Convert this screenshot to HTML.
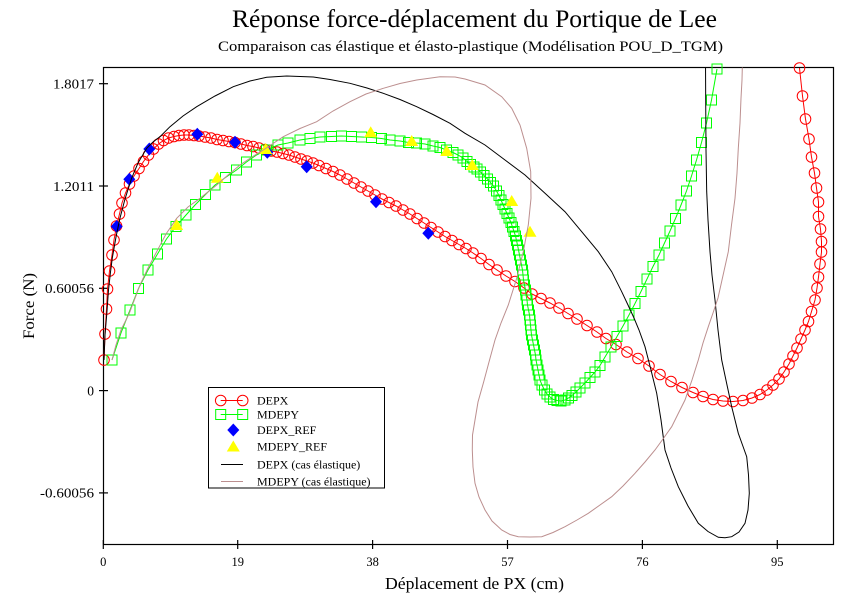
<!DOCTYPE html>
<html>
<head>
<meta charset="utf-8">
<style>
html,body{margin:0;padding:0;background:#fff;}
svg{display:block;}
text{font-family:"Liberation Serif","DejaVu Serif",serif;fill:#000;}
</style>
</head>
<body>
<svg width="842" height="595" viewBox="0 0 842 595" xmlns="http://www.w3.org/2000/svg">
<defs>
  <clipPath id="clip"><rect x="103.5" y="67.5" width="730" height="477"/></clipPath>
  <marker id="mc" viewBox="-7 -7 14 14" refX="0" refY="0" markerWidth="14" markerHeight="14" markerUnits="userSpaceOnUse" overflow="visible">
    <circle cx="0" cy="0" r="5.3" fill="none" stroke="#ff0000" stroke-width="1"/>
  </marker>
  <marker id="ms" viewBox="-7 -7 14 14" refX="0" refY="0" markerWidth="14" markerHeight="14" markerUnits="userSpaceOnUse" overflow="visible">
    <rect x="-5" y="-5" width="10" height="10" fill="none" stroke="#00ff00" stroke-width="1"/>
  </marker>
</defs>
<rect x="0" y="0" width="842" height="595" fill="#fff"/>

<!-- Titles -->
<text x="474.5" y="27" font-size="25" text-anchor="middle" textLength="485" lengthAdjust="spacingAndGlyphs">Réponse force-déplacement du Portique de Lee</text>
<text x="470.5" y="51" font-size="15" text-anchor="middle" textLength="505" lengthAdjust="spacingAndGlyphs">Comparaison cas élastique et élasto-plastique (Modélisation POU_D_TGM)</text>

<!-- Frame -->
<rect x="103.5" y="67.5" width="730" height="477" fill="none" stroke="#000" stroke-width="1.2"/>

<!-- Y ticks -->
<g stroke="#000" stroke-width="1.2">
  <line x1="99" y1="83.7" x2="108" y2="83.7"/>
  <line x1="99" y1="186" x2="108" y2="186"/>
  <line x1="99" y1="288.3" x2="108" y2="288.3"/>
  <line x1="99" y1="390.6" x2="108" y2="390.6"/>
  <line x1="99" y1="492.9" x2="108" y2="492.9"/>
</g>
<g font-size="13.5" text-anchor="end">
  <text x="94" y="88.5" textLength="41" lengthAdjust="spacingAndGlyphs">1.8017</text>
  <text x="94" y="190.8" textLength="41" lengthAdjust="spacingAndGlyphs">1.2011</text>
  <text x="94" y="293.1" textLength="49" lengthAdjust="spacingAndGlyphs">0.60056</text>
  <text x="94" y="395.4">0</text>
  <text x="94" y="497.7" textLength="54" lengthAdjust="spacingAndGlyphs">-0.60056</text>
</g>

<!-- X ticks -->
<g stroke="#000" stroke-width="1.2">
  <line x1="103.3" y1="540" x2="103.3" y2="549"/>
  <line x1="237.7" y1="540" x2="237.7" y2="549"/>
  <line x1="372.6" y1="540" x2="372.6" y2="549"/>
  <line x1="507.5" y1="540" x2="507.5" y2="549"/>
  <line x1="642.4" y1="540" x2="642.4" y2="549"/>
  <line x1="777.3" y1="540" x2="777.3" y2="549"/>
</g>
<g font-size="12.5" text-anchor="middle">
  <text x="103.3" y="566">0</text>
  <text x="237.7" y="566">19</text>
  <text x="372.6" y="566">38</text>
  <text x="507.5" y="566">57</text>
  <text x="642.4" y="566">76</text>
  <text x="777.3" y="566">95</text>
</g>

<!-- Axis labels -->
<text x="474.5" y="589" font-size="16.5" text-anchor="middle" textLength="179" lengthAdjust="spacingAndGlyphs">Déplacement de PX (cm)</text>
<text transform="translate(34,306) rotate(-90)" x="0" y="0" font-size="16" text-anchor="middle" textLength="66" lengthAdjust="spacingAndGlyphs">Force (N)</text>

<!-- DEPX (red circles) -->
<polyline fill="none" stroke="#ff0000" stroke-width="1" marker-start="url(#mc)" marker-mid="url(#mc)" marker-end="url(#mc)" points="
104,360 105,334 106.5,309 107.5,289 109.5,271 112,255 114,240 116.5,226 119.5,214 122,203 125.5,193 129.5,184 134,176 139,168.5 143.5,161.5 148.5,155 153.5,149 158.5,144 163.5,140.5 168.5,138 174,136.5 179,135.5 184,135 189,135 194,135.5 199,136 205,137 211,138 217,139.5 223,140.5 229,141.5 235,142.5 241,144 247,145.5 253,146.5 259,148 265,149.5 271,151 277,152 283,153.5 289,155 295,157 301,159 307,161 313,163 319,165.5 326,168.5 333,171.5 340,175 347,179 354,183 361,187 368,191 375,195 382,199 389,202.5 396,206 403,210 410,214 417,218.5 424,223 431,227.5 438,232 445,236.5 452,240.5 459,244.5 466,248.5 473,253 481,258.5 489,264.5 497,270 506,276 515,281.5 524,288 532,294 541,298.5 550,303 559,308 568,313.5 577,319 587,325.5 597,332 606,338.5 616,344.5 627,352 638,358.5 649,366 660,374.5 671,381.5 682,387.5 693,392.5 703,396.5 713,399.5 723,401 733,401.5 743,400.5 752,398 760,394.5 767,390 773,385 779,379 784,372 789,364 793,356 797,348 801,339 805,330 808.5,321.5 811.5,311.5 815,300 817,288 818.5,277 820,264 821.5,252 821.5,241.5 820.5,229 818.5,216.5 818.5,202 816.5,188 814.5,173 811.5,157 809,139 805.5,119 802.5,96 799.5,68"/>

<!-- MDEPY (green squares) -->
<polyline fill="none" stroke="#00ff00" stroke-width="1" marker-start="url(#ms)" marker-mid="url(#ms)" marker-end="url(#ms)" points="
112,360 121,333 130,310 138.5,288.5 148,270 157.5,254 166.5,239 176,226.5 186,215 195.5,204.5 205.5,194.5 215,185 225.5,177.5 236.5,170 246.5,162 256.5,155 266.5,150 278,145 288,143 300,140 310,138.5 320,137 331.5,136.5 341.5,136 351.5,136.5 361.5,137 371.5,137.5 381.5,138.5 390,140 400,141 408.5,142.5 416.5,143 425,144 433,146 440,147.5 446.5,150 453,152.5 458,155 463,158 467,161.5 470.5,164.5 474,167 477,169 480.5,172 484,175.5 487.5,179 490.5,182.5 493.5,186 496.5,191 499,195.5 501,200 503,204.5 505,209 507,213.5 509,218 511,222.5 512.5,227 514,231.5 515.5,236 516.5,240.5 517.5,245 518.5,250 519.5,255 520.5,260 521.5,265 522.5,270 523,275 523.5,280 524.5,285 525.5,290 526,295 527,300 527.5,305 528.5,310 529.5,315 530,320 530.5,325 531,330 531.5,335 532.5,340 533.5,345 534.5,350 535.5,355 536,360 537,365 538,370 539,375 540,380 542,385 544.5,390 547,394 550,397 553.5,399.5 557,400.5 561,401 565,400 568.5,398 572,395.5 576,392 580,388 585,383 590,377.5 595,372 600,365.5 605,357 611,347 617,336.5 623,326 629,315 635,303.5 641,291.5 647,279 653,266.5 659,255 664.5,243 670,231 675.5,218.5 681,205 686.5,191 691.5,176 696.5,160 701.5,142.5 706.5,123 711.5,100 717,69"/>

<!-- DEPX_REF (blue diamonds) -->
<g fill="#0000ff">
  <polygon points="116.7,220 122.7,226.5 116.7,233 110.7,226.5"/>
  <polygon points="129.3,172.8 135.3,179.3 129.3,185.8 123.3,179.3"/>
  <polygon points="149.3,142.5 155.3,149 149.3,155.5 143.3,149"/>
  <polygon points="197.3,127.8 203.3,134.3 197.3,140.8 191.3,134.3"/>
  <polygon points="235,135.8 241,142.3 235,148.8 229,142.3"/>
  <polygon points="267.3,145.8 273.3,152.3 267.3,158.8 261.3,152.3"/>
  <polygon points="306.7,160.2 312.7,166.7 306.7,173.2 300.7,166.7"/>
  <polygon points="376,195.2 382,201.7 376,208.2 370,201.7"/>
  <polygon points="428.3,226.8 434.3,233.3 428.3,239.8 422.3,233.3"/>
</g>

<!-- MDEPY_REF (yellow triangles) -->
<g fill="#ffff00">
  <polygon points="176.7,219 183.2,230 170.2,230"/>
  <polygon points="217.3,171.7 223.8,182.7 210.8,182.7"/>
  <polygon points="265.7,143 272.2,154 259.2,154"/>
  <polygon points="370.7,126.3 377.2,137.3 364.2,137.3"/>
  <polygon points="411.7,135 418.2,146 405.2,146"/>
  <polygon points="446.7,145 453.2,156 440.2,156"/>
  <polygon points="472.3,159 478.8,170 465.8,170"/>
  <polygon points="511.7,195 518.2,206 505.2,206"/>
  <polygon points="530,225.7 536.5,236.7 523.5,236.7"/>
</g>

<g clip-path="url(#clip)">
<!-- DEPX elastic (black) -->
<polyline fill="none" stroke="#000" stroke-width="1" points="
104,360 105,335 106.7,315 108.5,290 110.5,272 112.3,258 116,237 120,218 125,199 131.7,178 138,163 146.7,148.3 153,142 160,136.7 170,126.7 183,116 196.7,106.7 215,96 233.3,86.7 250,81 266.7,77.3 286.7,76 313.3,77 330,79.5 350,83.3 367,88 383.3,93.3 400,99.5 416.7,106.7 433,114.5 450,123.3 465,133.3 485,145 505,160 525,175 545,193.3 565,211.7 581.7,231.7 598.3,251.7 611.7,271.7 621.7,291.7 628,305 634,318 639,330 645,346.7 651,370 656.7,393.3 661,420 665,450 671,468 678.3,486.7 688,506 698.3,523.3 708,531.5 718.3,537.3 725,537.7 731.7,536.7 739,532 745,523.3 748,510 749.3,493.3 748.5,475 746.7,456.7 742.5,445 738.3,433.3 735,420 731.7,406.7 727,385 721.7,360 718,330 715,300 712,275 710,251.7 708,220 706.7,191.7 706,150 705.7,100 705.5,60"/>

<!-- MDEPY elastic (rosy brown) -->
<polyline fill="none" stroke="#bc8f8f" stroke-width="1" points="
112,360 116,345 121,330 129.3,313.3 140,285 148,268 156.7,251.7 166,234 176.7,218.3 188,207 200,198.3 216.7,185 228,175 240,165 252,157 263.3,150 283.3,136.7 300,128.5 316.7,121.7 333,111 350,101.7 366,94 383.3,88.3 400,83.5 416.7,80 440,76.7 455,77 465,79 485,85 501.7,96.7 511.7,108.3 520,125 526.7,148.3 530.7,171.7 531,198.3 528.3,225 523.3,251.7 516.7,278.3 508.3,305 501,323 495,340 489,362 483.3,383.3 478,402 475,420 472.5,435 472.3,450 473,467 475,483.3 479,497 485,510 492,521 501.7,530 510,534.5 518.3,536.7 530,537 541.7,536.7 553,532.5 565,526.7 577,520 588.3,513.3 600,505 611.7,496.7 623,486 635,473.3 645,462 655,450 663,439 671.7,426.7 678,414 685,400 692,380 698.3,360 703,343 708.3,326.7 713,313 718,298 722,280 728.3,251.7 731.5,225 735,198.3 737,173 738.3,148.3 740,123 741,98.3 742,80 742.5,60"/>
</g>

<!-- Legend -->
<rect x="208.5" y="387.5" width="176" height="100.5" fill="#fff" stroke="#000" stroke-width="1"/>
<line x1="220.7" y1="400.5" x2="242.7" y2="400.5" stroke="#ff0000" stroke-width="1"/>
<circle cx="220.7" cy="400.5" r="5.3" fill="none" stroke="#ff0000" stroke-width="1"/>
<circle cx="242.7" cy="400.5" r="5.3" fill="none" stroke="#ff0000" stroke-width="1"/>
<line x1="220.7" y1="414.5" x2="242.7" y2="414.5" stroke="#00ff00" stroke-width="1"/>
<rect x="215.7" y="409.5" width="10" height="10" fill="none" stroke="#00ff00" stroke-width="1"/>
<rect x="237.7" y="409.5" width="10" height="10" fill="none" stroke="#00ff00" stroke-width="1"/>
<polygon points="233.3,423.5 239.3,430 233.3,436.5 227.3,430" fill="#0000ff"/>
<polygon points="233.3,440.5 239.8,451.5 226.8,451.5" fill="#ffff00"/>
<line x1="221" y1="464.5" x2="243" y2="464.5" stroke="#000" stroke-width="1"/>
<line x1="221" y1="481.5" x2="243" y2="481.5" stroke="#bc8f8f" stroke-width="1"/>
<g font-size="12">
  <text x="257" y="404.5">DEPX</text>
  <text x="257" y="418.5">MDEPY</text>
  <text x="257" y="434">DEPX_REF</text>
  <text x="257" y="450.5">MDEPY_REF</text>
  <text x="257" y="468.5">DEPX (cas élastique)</text>
  <text x="257" y="485.5">MDEPY (cas élastique)</text>
</g>
</svg>
</body>
</html>
